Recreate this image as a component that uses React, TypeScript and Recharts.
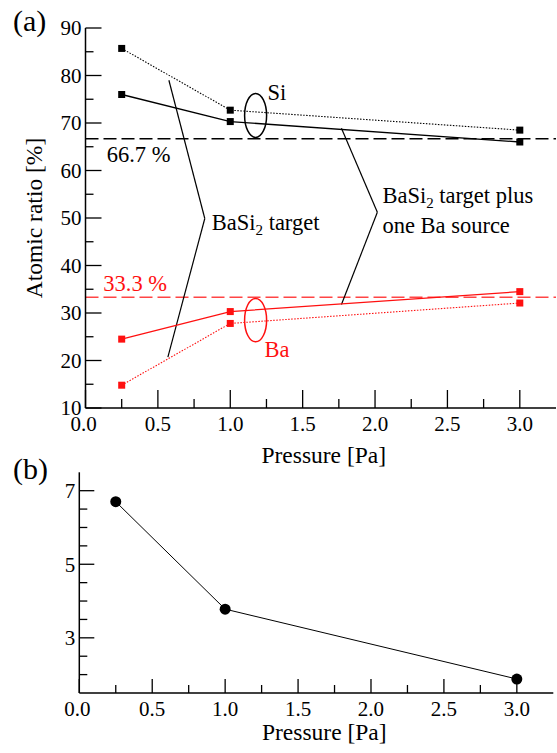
import { LineChart, Line, XAxis, YAxis, ReferenceLine, ReferenceDot, Label } from "recharts";

// pressure [Pa] of the three samples
const pressure = [0.25, 1.0, 3.0];

// (a) atomic ratio [%]
const siTarget = [85.7, 72.7, 68.5];
const siTargetPlusBa = [76.0, 70.3, 66.0];
const baTargetPlusBa = [24.5, 30.3, 34.5];
const baTarget = [14.8, 27.8, 32.1];

// (b)
const panelB = [6.7, 3.78, 1.88];

const pressureTicks = [0, 0.25, 0.5, 0.75, 1, 1.25, 1.5, 1.75, 2, 2.25, 2.5, 2.75, 3];
const pressureLabels = [0, 0.5, 1, 1.5, 2, 2.5, 3];
const ratioTicks = [10, 15, 20, 25, 30, 35, 40, 45, 50, 55, 60, 65, 70, 75, 80, 85, 90];
const ratioLabels = [10, 20, 30, 40, 50, 60, 70, 80, 90];
const bTicks = [2, 2.5, 3, 3.5, 4, 4.5, 5, 5.5, 6, 6.5, 7];
const bLabels = [3, 5, 7];

const dataA = pressure.map((p, i) => ({
  p,
  siTarget: siTarget[i],
  siTargetPlusBa: siTargetPlusBa[i],
  baTargetPlusBa: baTargetPlusBa[i],
  baTarget: baTarget[i],
}));
const dataB = pressure.map((p, i) => ({ p, v: panelB[i] }));

const FONT = "Liberation Serif";
const RED = "#ff1010";

const bottomTick = (labels: number[], major: number, minor: number, gap: number) => (props: any) => {
  const { x, y, payload } = props;
  const isMajor = labels.includes(payload.value);
  return (
    <g>
      <line x1={x} x2={x} y1={y} y2={y - (isMajor ? major : minor)} stroke="#000" strokeWidth={1.3} />
      {isMajor && (
        <text
          x={payload.value === 0 ? x - 2 : x}
          y={y + gap}
          textAnchor="middle"
          fontSize={21}
          fontFamily={FONT}
          fill="#000"
        >
          {payload.value.toFixed(1)}
        </text>
      )}
    </g>
  );
};

const leftTick = (labels: number[], major: number, minor: number) => (props: any) => {
  const { x, y, payload } = props;
  const isMajor = labels.includes(payload.value);
  return (
    <g>
      <line x1={x} x2={x + (isMajor ? major : minor)} y1={y} y2={y} stroke="#000" strokeWidth={1.3} />
      {isMajor && (
        <text x={x - 4} y={y} dy="0.35em" textAnchor="end" fontSize={21} fontFamily={FONT} fill="#000">
          {payload.value}
        </text>
      )}
    </g>
  );
};

const topTick = (len: number) => (props: any) => (
  <line x1={props.x} x2={props.x} y1={props.y} y2={props.y + len} stroke="#000" strokeWidth={1} />
);
const rightTick = (len: number) => (props: any) => (
  <line x1={props.x} x2={props.x - len} y1={props.y} y2={props.y} stroke="#000" strokeWidth={1} />
);

const square = (color: string) => (p: any) => (
  <rect key={p.index} x={p.cx - 3.5} y={p.cy - 3.5} width={7} height={7} fill={color} />
);

const note = (content: any, color: string) => (p: any) => (
  <text x={p.cx} y={p.cy} fill={color} fontSize={22.5} fontFamily={FONT}>
    {content}
  </text>
);

const oval = (color: string, ry: number) => (p: any) => (
  <ellipse cx={p.cx} cy={p.cy} rx={11} ry={ry} fill="none" stroke={color} strokeWidth={1.5} />
);

const basi2 = (rest: string) => (
  <>
    BaSi<tspan dy={5} fontSize={15}>2</tspan>
    <tspan dy={-5}>{rest}</tspan>
  </>
);

const axisLine = { stroke: "#000", strokeWidth: 1.5 };

const App = () => {
  return (
    <div style={{ position: "absolute", left: 0, top: 0, width: 557, height: 753, fontFamily: FONT }}>
      <svg width={557} height={753} style={{ position: "absolute", left: 0, top: 0 }}>
        <text x={13} y={31} fontSize={30} fontFamily={FONT}>(a)</text>
        <text x={13} y={479} fontSize={30} fontFamily={FONT}>(b)</text>
      </svg>

      <div style={{ position: "absolute", left: 0, top: 0 }}>
        <LineChart
          width={557}
          height={470}
          data={dataA}
          margin={{ top: 28, right: 1, left: 0, bottom: 0 }}
          style={{ fontFamily: FONT }}
        >
          <XAxis
            dataKey="p"
            type="number"
            domain={[0, 3.25]}
            ticks={pressureTicks}
            interval={0}
            allowDataOverflow
            height={62}
            tickSize={0}
            tickMargin={0}
            tickLine={false}
            axisLine={axisLine}
            tick={bottomTick(pressureLabels, 18, 9, 22.5)}
          >
            <Label
              value="Pressure [Pa]"
              position="insideBottom"
              offset={7}
              dx={3}
              fontSize={23.5}
              fontFamily={FONT}
              fill="#000"
            />
          </XAxis>
          <XAxis xAxisId="top" orientation="top" type="number" domain={[0, 3.25]} height={0} tick={false} tickLine={false} axisLine={axisLine} />
          <YAxis
            type="number"
            domain={[10, 90]}
            ticks={ratioTicks}
            interval={0}
            allowDataOverflow
            width={85.5}
            tickSize={0}
            tickMargin={0}
            tickLine={false}
            axisLine={axisLine}
            tick={leftTick(ratioLabels, 16, 8)}
          >
            <Label
              value="Atomic ratio [%]"
              angle={-90}
              position="insideLeft"
              offset={34}
              fontSize={23.5}
              fontFamily={FONT}
              fill="#000"
              style={{ textAnchor: "middle" }}
            />
          </YAxis>
          <YAxis yAxisId="right" orientation="right" type="number" domain={[10, 90]} width={0} tick={false} tickLine={false} axisLine={axisLine} />

          <ReferenceLine y={66.7} stroke="#000" strokeWidth={1.5} strokeDasharray="13 5" />
          <ReferenceLine y={33.3} stroke="#ff4545" strokeWidth={1.5} strokeDasharray="13 5" />

          {/* leaders */}
          <ReferenceLine segment={[{ x: 0.576, y: 79.0 }, { x: 0.824, y: 49.9 }]} stroke="#000" strokeWidth={1.2} />
          <ReferenceLine segment={[{ x: 0.824, y: 49.9 }, { x: 0.569, y: 20.7 }]} stroke="#000" strokeWidth={1.2} />
          <ReferenceLine segment={[{ x: 1.768, y: 68.9 }, { x: 2.016, y: 51.2 }]} stroke="#000" strokeWidth={1.2} />
          <ReferenceLine segment={[{ x: 2.016, y: 51.2 }, { x: 1.768, y: 31.8 }]} stroke="#000" strokeWidth={1.2} />

          <Line dataKey="siTarget" stroke="#000" strokeWidth={1.1} strokeDasharray="1.5 1.5" dot={square("#000")} isAnimationActive={false} />
          <Line dataKey="siTargetPlusBa" stroke="#000" strokeWidth={1.3} dot={square("#000")} isAnimationActive={false} />
          <Line dataKey="baTargetPlusBa" stroke={RED} strokeWidth={1.3} dot={square(RED)} isAnimationActive={false} />
          <Line dataKey="baTarget" stroke={RED} strokeWidth={1.1} strokeDasharray="1.5 1.5" dot={square(RED)} isAnimationActive={false} />

          <ReferenceDot x={1.175} y={71.6} shape={oval("#000", 22)} />
          <ReferenceDot x={1.175} y={28.5} shape={oval(RED, 21.7)} />

          <ReferenceDot x={1.258} y={74.8} shape={note("Si", "#000")} />
          <ReferenceDot x={1.237} y={20.7} shape={note("Ba", RED)} />
          <ReferenceDot x={0.146} y={61.8} shape={note("66.7 %", "#000")} />
          <ReferenceDot x={0.123} y={34.6} shape={note("33.3 %", RED)} />
          <ReferenceDot x={0.872} y={47.4} shape={note(basi2(" target"), "#000")} />
          <ReferenceDot x={2.051} y={53.1} shape={note(basi2(" target plus"), "#000")} />
          <ReferenceDot x={2.051} y={46.8} shape={note("one Ba source", "#000")} />
        </LineChart>
      </div>

      <div style={{ position: "absolute", left: 0, top: 440 }}>
        <LineChart
          width={557}
          height={313}
          data={dataB}
          margin={{ top: 32.3, right: 3.7, left: 0, bottom: 0 }}
          style={{ fontFamily: FONT }}
        >
          <XAxis
            dataKey="p"
            type="number"
            domain={[0, 3.25]}
            ticks={pressureTicks}
            interval={0}
            allowDataOverflow
            height={60}
            tickSize={0}
            tickMargin={0}
            tickLine={false}
            axisLine={axisLine}
            tick={bottomTick(pressureLabels, 14, 8, 23)}
          >
            <Label
              value="Pressure [Pa]"
              position="insideBottom"
              offset={13}
              dx={8}
              fontSize={23.5}
              fontFamily={FONT}
              fill="#000"
            />
          </XAxis>
          <XAxis
            xAxisId="top"
            orientation="top"
            type="number"
            domain={[0, 3.25]}
            ticks={pressureTicks}
            interval={0}
            height={0}
            tickSize={0}
            tickMargin={0}
            tickLine={false}
            axisLine={axisLine}
            tick={topTick(3)}
          />
          <YAxis
            type="number"
            domain={[1.5, 7.5]}
            ticks={bTicks}
            interval={0}
            allowDataOverflow
            width={79.3}
            tickSize={0}
            tickMargin={0}
            tickLine={false}
            axisLine={axisLine}
            tick={leftTick(bLabels, 15, 8)}
          />
          <YAxis
            yAxisId="right"
            orientation="right"
            type="number"
            domain={[1.5, 7.5]}
            ticks={bTicks}
            interval={0}
            width={0}
            tickSize={0}
            tickMargin={0}
            tickLine={false}
            axisLine={axisLine}
            tick={rightTick(3)}
          />
          <Line
            dataKey="v"
            stroke="#000"
            strokeWidth={1}
            dot={{ r: 5.5, fill: "#000", stroke: "#000", strokeWidth: 0 }}
            isAnimationActive={false}
          />
        </LineChart>
      </div>
    </div>
  );
};

export default App;
